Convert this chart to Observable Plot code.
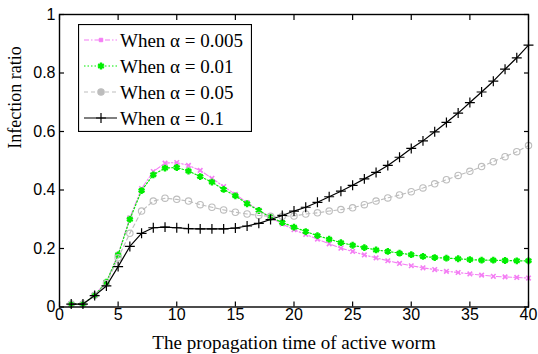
<!DOCTYPE html>
<html><head><meta charset="utf-8">
<script src="https://cdn.jsdelivr.net/npm/d3@7"></script>
<script src="https://cdn.jsdelivr.net/npm/@observablehq/plot@0.6"></script>
<style>
body{margin:0;background:#fff;}
#chart{position:relative;width:538px;height:354px;}
#legend{position:absolute;left:78px;top:24px;}
</style></head><body><div id="chart"></div>
<script>
const time = [1,2,3,4,5,6,7,8,9,10,11,12,13,14,15,16,17,18,19,20,21,22,23,24,25,26,27,28,29,30,31,32,33,34,35,36,37,38,39,40];
const alpha0005 = [0.01,0.01,0.04,0.085,0.18,0.305,0.405,0.463,0.492,0.494,0.484,0.467,0.44,0.412,0.385,0.357,0.331,0.306,0.284,0.264,0.248,0.232,0.216,0.201,0.19,0.178,0.168,0.158,0.149,0.141,0.134,0.128,0.122,0.118,0.113,0.109,0.105,0.103,0.101,0.099];
const alpha001 = [0.01,0.01,0.04,0.085,0.178,0.3,0.398,0.452,0.475,0.477,0.465,0.446,0.427,0.402,0.38,0.353,0.33,0.307,0.289,0.273,0.258,0.244,0.232,0.22,0.211,0.203,0.195,0.19,0.184,0.179,0.173,0.169,0.167,0.165,0.162,0.16,0.16,0.159,0.158,0.158];
const alpha005 = [0.01,0.01,0.04,0.08,0.168,0.252,0.328,0.362,0.372,0.368,0.362,0.35,0.341,0.332,0.324,0.318,0.313,0.31,0.31,0.311,0.318,0.322,0.328,0.333,0.339,0.35,0.362,0.373,0.383,0.394,0.407,0.421,0.435,0.45,0.464,0.48,0.497,0.514,0.531,0.552];
const alpha01 = [0.01,0.01,0.039,0.072,0.138,0.207,0.252,0.271,0.273,0.271,0.268,0.267,0.267,0.267,0.27,0.277,0.286,0.299,0.313,0.328,0.341,0.358,0.377,0.396,0.416,0.438,0.46,0.484,0.512,0.542,0.568,0.599,0.631,0.663,0.699,0.735,0.772,0.813,0.852,0.895];
const seriesNames = ["When \u03b1 = 0.005","When \u03b1 = 0.01","When \u03b1 = 0.05","When \u03b1 = 0.1"];
const xTicks = [0,5,10,15,20,25,30,35,40];
const yTicks = [0,0.2,0.4,0.6,0.8,1];
const yTickLabels = ["0","0.2","0.4","0.6","0.8","1"];
const xLabel = "The propagation time of active worm";
const yLabel = "Infection ratio";

const seriesValues = [alpha0005, alpha001, alpha005, alpha01];
const styles = [
  {color:"#f47df4", dash:"5,2,1.5,2", symbol:"times", r:2.2, sw:1.6, lw:1.1},
  {color:"#00ee00", dash:"1.5,2", symbol:"asterisk", r:3.2, sw:2.4, lw:1.2},
  {color:"#bdbdbd", dash:"4,3", symbol:"circle", r:3.2, sw:1.1, lw:1.1},
  {color:"#000000", dash:null, symbol:"plus", r:3.3, sw:1.2, lw:1.2}
];
const rows = [];
seriesNames.forEach((name, si) => time.forEach((t, i) => rows.push({t, v: seriesValues[si][i], s: si})));

const marks = [];
seriesNames.forEach((name, si) => {
  const st = styles[si];
  const data = rows.filter(d => d.s === si);
  marks.push(Plot.line(data, {x:"t", y:"v", stroke: st.color, strokeWidth: st.lw, strokeDasharray: st.dash}));
  marks.push(Plot.dot(data, {x:"t", y:"v", symbol: st.symbol, r: st.r, stroke: st.color, strokeWidth: st.sw, fill: "none"}));
});

const plot = Plot.plot({
  width: 538, height: 354,
  marginLeft: 59, marginRight: 10, marginTop: 14, marginBottom: 47.5,
  style: {fontFamily: "'Liberation Sans', Arial, sans-serif", fontSize: "16px", background: "#fff", color: "#000"},
  x: {domain: [0, 40]},
  y: {domain: [0, 1]},
  marks: [
    ...marks,
    Plot.axisX(xTicks, {anchor: "bottom", tickSize: -5, tickPadding: 7, label: null, fontSize: 16, strokeWidth: 1.2}),
    Plot.axisX(xTicks, {anchor: "top", tickSize: -5, tickFormat: () => "", label: null, strokeWidth: 1.2}),
    Plot.axisY(yTicks, {anchor: "left", tickSize: -5, tickPadding: 9, tickFormat: (d) => yTickLabels[yTicks.indexOf(d)], label: null, fontSize: 16, strokeWidth: 1.2}),
    Plot.axisY(yTicks, {anchor: "right", tickSize: -5, tickFormat: () => "", label: null, strokeWidth: 1.2}),
    Plot.frame({stroke: "#000", strokeWidth: 1.4}),
    Plot.text([xLabel], {frameAnchor: "bottom", dy: 36, fontFamily: "'Liberation Serif', 'Times New Roman', serif", fontSize: 19, lineAnchor: "middle"}),
    Plot.text([yLabel], {frameAnchor: "left", rotate: -90, dx: -44, dy: -12, fontFamily: "'Liberation Serif', 'Times New Roman', serif", fontSize: 18})
  ]
});
const chart = document.getElementById("chart");
chart.appendChild(plot);

// legend overlay
const lw = 174, lh = 108;
const leg = d3.select(chart).append("svg").attr("id", "legend").attr("width", lw).attr("height", lh);
leg.append("rect").attr("x", 0.5).attr("y", 0.5).attr("width", lw - 1).attr("height", lh - 1).attr("fill", "#fff").attr("stroke", "#000").attr("stroke-width", 1.2);
const symMap = {times: d3.symbolTimes, asterisk: d3.symbolAsterisk, circle: d3.symbolCircle, plus: d3.symbolPlus};
seriesNames.forEach((name, si) => {
  const st = styles[si];
  const cy = 16 + si * 26;
  const g = leg.append("g");
  g.append("line").attr("x1", 6).attr("x2", 39).attr("y1", cy).attr("y2", cy)
    .attr("stroke", st.color).attr("stroke-width", st.lw).attr("stroke-dasharray", st.dash);
  const size = Math.PI * st.r * st.r;
  g.append("path").attr("transform", `translate(23,${cy})`)
    .attr("d", d3.symbol(si === 0 ? d3.symbolSquare : symMap[st.symbol], si === 0 ? 12 : size)())
    .attr("fill", si <= 2 ? st.color : "none").attr("stroke", st.color).attr("stroke-width", si === 0 ? 1 : st.sw);
  g.append("text").attr("x", 42).attr("y", cy).attr("dy", "0.35em")
    .attr("font-family", "'Liberation Serif', 'Times New Roman', serif").attr("font-size", 19)
    .text(name);
});
</script></body></html>
